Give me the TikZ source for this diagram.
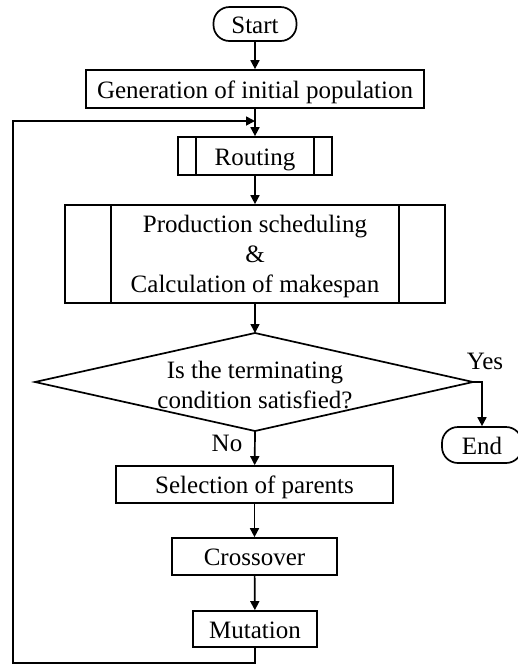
\documentclass[tikz,border=0pt]{standalone}
\usepackage{fontspec}
\setmainfont{Liberation Serif}
\usetikzlibrary{arrows.meta}
\begin{document}
\begin{tikzpicture}[x=1pt,y=-1pt,
  every node/.style={font=\fontsize{25}{30}\selectfont},
  box/.style={draw,line width=1.7pt,inner sep=0pt,text height=18pt,text depth=0pt},
  term/.style={box,rounded corners=16pt},
  txt/.style={inner sep=0pt,align=center},
  flow/.style={line width=1.7pt,-{Triangle[length=9pt,width=9pt]}},
  line/.style={line width=1.7pt}]
\useasboundingbox (0,0) rectangle (518,665);
\node[term,minimum width=83pt,minimum height=34pt] (start) at (255,24) {Start};
\node[box,minimum width=338pt,minimum height=38pt] (gen) at (255,89) {Generation of initial population};
\node[box,minimum width=154pt,minimum height=38pt] (rout) at (255,156) {Routing};
\draw[line] ([xshift=19pt]rout.north west) -- ([xshift=19pt]rout.south west);
\draw[line] ([xshift=-19pt]rout.north east) -- ([xshift=-19pt]rout.south east);
\node[draw,line width=1.7pt,minimum width=380pt,minimum height=98pt] (prod) at (255,254) {};
\draw[line] ([xshift=47pt]prod.north west) -- ([xshift=47pt]prod.south west);
\draw[line] ([xshift=-47pt]prod.north east) -- ([xshift=-47pt]prod.south east);
\node[txt] (prodtxt) at (255,256) {Production scheduling\\\&\\Calculation of makespan};
\coordinate (decT) at (255,333);
\coordinate (decR) at (473,382);
\coordinate (decB) at (255,431);
\coordinate (decL) at (35,382);
\draw[line,line join=miter] (decT) -- (decR) -- (decB) -- (decL) -- cycle;
\node[txt] (dec) at (255,385) {Is the terminating\\condition satisfied?};
\node[term,minimum width=80pt,minimum height=36pt] (end) at (482,445) {End};
\node[box,minimum width=277pt,minimum height=37pt] (sel) at (254.5,484.5) {Selection of parents};
\node[box,minimum width=165pt,minimum height=37pt] (cross) at (254.5,556.5) {Crossover};
\node[box,minimum width=124pt,minimum height=36pt] (mut) at (255,629) {Mutation};
\node[txt] (yes) at (485,361) {Yes};
\node[txt] (no) at (227,443) {No};
\coordinate (loopA) at (255,663);
\coordinate (loopB) at (13,663);
\coordinate (loopC) at (13,121);
\coordinate (loopD) at (255,121);
\draw[flow] (start) -- (gen);
\draw[flow] (gen) -- (rout);
\draw[flow] (rout) -- (prod);
\draw[flow] (prod) -- (decT);
\draw[flow] (decB) -- (sel);
\draw[flow] (sel) -- (cross);
\draw[flow] (cross) -- (mut);
\draw[flow] (decR) -| (end);
\draw[flow] (mut.south) -- (loopA) -- (loopB) -- (loopC) -- (loopD);
\end{tikzpicture}
\end{document}
